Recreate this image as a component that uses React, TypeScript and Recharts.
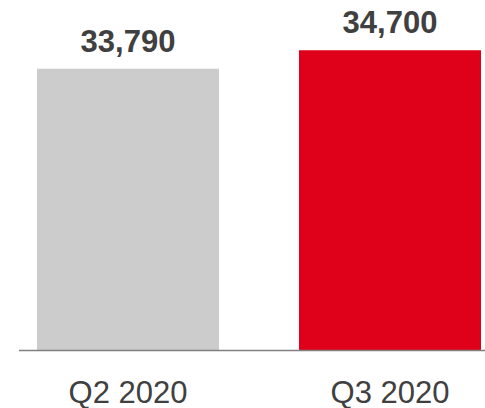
import React from 'react';
import { BarChart, Bar, XAxis, YAxis, Cell, LabelList } from 'recharts';

const quarters = ['Q2 2020', 'Q3 2020'];
const values = [33790, 34700];
const barColors = ['#cccccc', '#df0019'];

const data = quarters.map((q, i) => ({ quarter: q, value: values[i] }));

const FONT = '"Liberation Sans", Arial, sans-serif';

const App: React.FC = () => {
  return (
    <div style={{ position: 'absolute', left: 0, top: 0, width: 485, height: 408 }}>
      <BarChart width={485} height={408} data={data} margin={{ top: 44, right: 0, bottom: 0, left: 19 }}>
        <XAxis
          dataKey="quarter"
          height={57.5}
          padding={{ left: -22, right: -36 }}
          axisLine={{ stroke: '#808080', strokeWidth: 1.3 }}
          tickLine={false}
          tickSize={8}
          tickMargin={22}
          tick={{ fill: '#404040', fontSize: 31, fontFamily: FONT }}
        />
        <YAxis hide domain={[20000, 35000]} allowDataOverflow />
        <Bar dataKey="value" barSize={182} isAnimationActive={false}>
          {data.map((d, i) => (
            <Cell key={d.quarter} fill={barColors[i]} />
          ))}
          <LabelList
            dataKey="value"
            position="top"
            offset={17}
            formatter={(v: any) => Number(v).toLocaleString('en-US')}
            style={{ fill: '#404040', fontSize: 31, fontWeight: 'bold', fontFamily: FONT }}
          />
        </Bar>
      </BarChart>
    </div>
  );
};

export default App;
